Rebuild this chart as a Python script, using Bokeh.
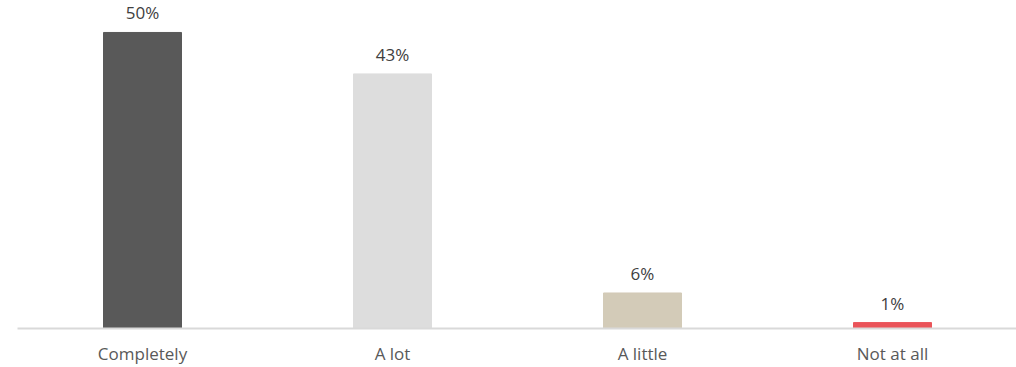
from bokeh.plotting import figure
from bokeh.models import Range1d, FixedTicker, ColumnDataSource
from bokeh.core.properties import value
from bokeh.embed import file_html
from bokeh.resources import INLINE

categories = ["Completely", "A lot", "A little", "Not at all"]
values = [50, 43, 6, 1]
labels = ["50%", "43%", "6%", "1%"]
colors = ["#595959", "#dddddd", "#d3cbb8", "#ea5459"]

xs = list(range(len(categories)))
src = ColumnDataSource(dict(x=xs, top=values, label=labels, color=colors))

p = figure(frame_width=999, frame_height=328, output_backend="svg", toolbar_location=None,
           x_range=Range1d(-0.5, 3.496), y_range=Range1d(0, 55.4),
           min_border_left=17, min_border_right=0, min_border_top=0, min_border_bottom=39)
p.outline_line_color = None
p.grid.visible = False
p.yaxis.visible = False

p.vbar(x="x", top="top", width=0.312, bottom=0, color="color", source=src)
p.text(x="x", y="top", text="label", source=src, text_align="center", text_baseline="bottom",
       y_offset=-8, text_font=value("Open Sans"), text_font_size="17px", text_color="#404040")

ax = p.xaxis[0]
ax.ticker = FixedTicker(ticks=xs)
ax.major_label_overrides = {i: c for i, c in zip(xs, categories)}
ax.major_tick_line_color = None
ax.minor_tick_line_color = None
ax.axis_line_color = "#d9d9d9"
ax.axis_line_width = 2
ax.major_label_standoff = 7
ax.major_label_text_font = "Open Sans"
ax.major_label_text_font_size = "17px"
ax.major_label_text_color = "#595959"

open("out.html", "w").write(file_html(p, INLINE))
